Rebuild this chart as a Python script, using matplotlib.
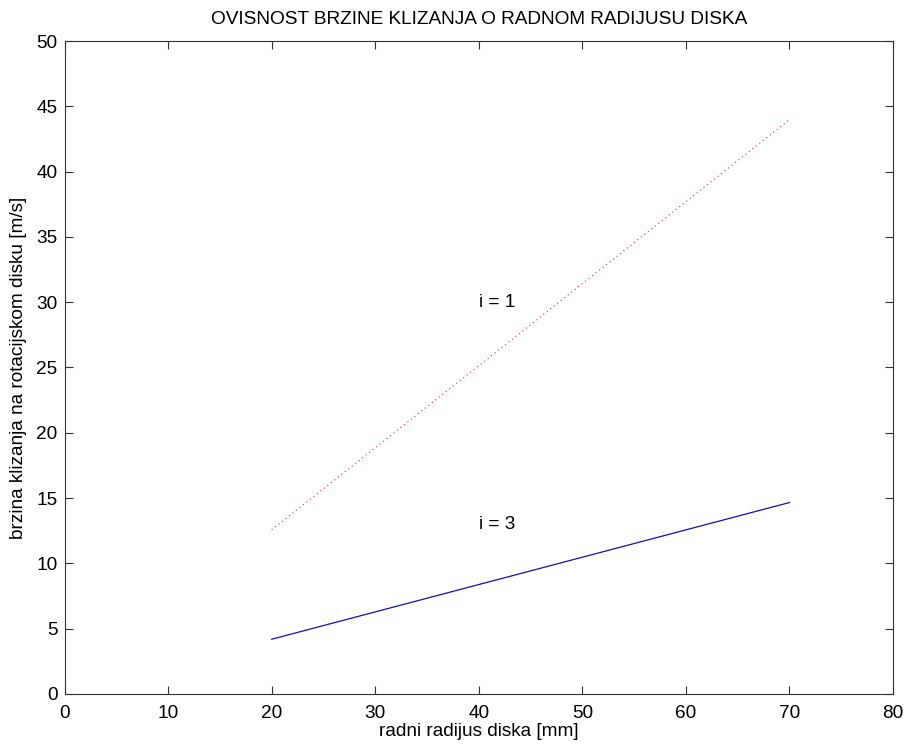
import matplotlib
matplotlib.use("Agg")
import matplotlib.pyplot as plt

plt.rcParams['font.family'] = ['Liberation Sans', 'DejaVu Sans']

radius = [20, 70]
v_i1 = [12.57, 43.98]
v_i3 = [4.19, 14.66]
x_ticks = [0, 10, 20, 30, 40, 50, 60, 70, 80]
y_ticks = [0, 5, 10, 15, 20, 25, 30, 35, 40, 45, 50]

FS = 13.7

fig = plt.figure(figsize=(9.06, 7.47), dpi=100)
ax = fig.add_axes([0.0712, 0.0710, 0.9145, 0.8741])

ax.plot(radius, v_i1, color='#e03030', linestyle=(0, (1, 3)), linewidth=0.8)
ax.plot(radius, v_i3, color='#1010c0', linestyle='-', linewidth=0.9)

ax.text(40, 30, 'i = 1', fontsize=FS, ha='left', va='center')
ax.text(40, 13, 'i = 3', fontsize=FS, ha='left', va='center')

ax.set_xlim(0, 80)
ax.set_ylim(0, 50)
ax.set_xticks(x_ticks)
ax.set_yticks(y_ticks)
ax.tick_params(direction='in', top=True, right=True, labelsize=FS, length=6, width=0.8,
               colors='#333333', labelcolor='black')
ax.tick_params(axis='x', pad=8)
ax.tick_params(axis='y', pad=5)
for s in ax.spines.values():
    s.set_color('#333333')
    s.set_linewidth(0.8)

ax.set_title('OVISNOST BRZINE KLIZANJA O RADNOM RADIJUSU DISKA', fontsize=FS, pad=12)
ax.set_xlabel('radni radijus diska [mm]', fontsize=FS, labelpad=1)
ax.set_ylabel('brzina klizanja na rotacijskom disku [m/s]', fontsize=FS, labelpad=7)

fig.savefig('out.png', dpi=100)
